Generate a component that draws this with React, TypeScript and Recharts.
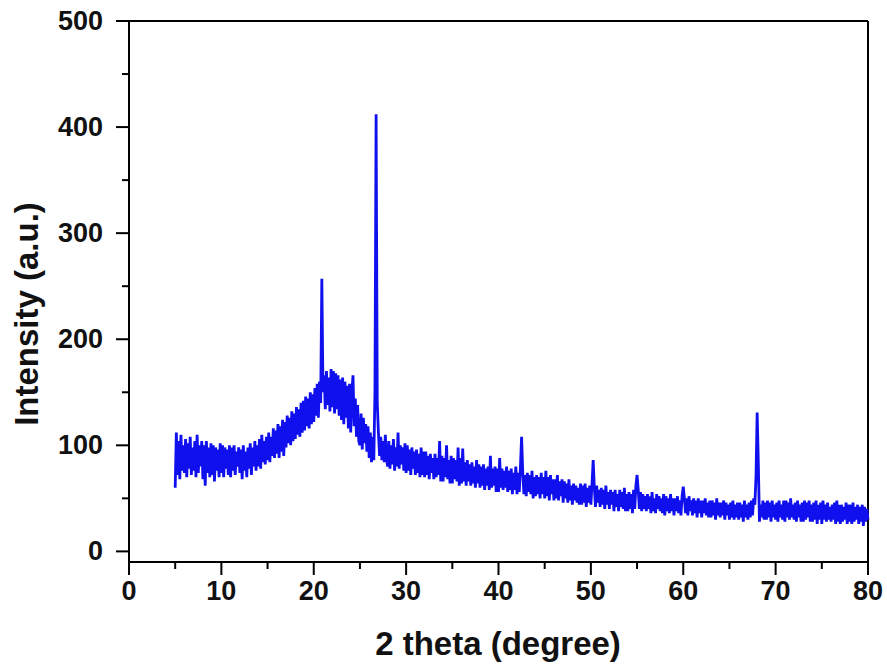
import { LineChart, Line, XAxis, YAxis, ReferenceLine } from 'recharts';

// XRD scan: 2 theta from 5 to 80 deg, read at 0.125 deg steps
const scanStart = 5;
const scanStep = 0.125;

// intensity, eight readings per degree
const intensity = [
  60, 112, 72, 104, 68, 110, 76, 100, // 5
  74, 106, 70, 102, 78, 108, 72, 98, // 6
  76, 104, 70, 110, 74, 100, 80, 104, // 7
  68, 100, 62, 104, 74, 98, 70, 102, // 8
  72, 100, 66, 98, 76, 96, 70, 102, // 9
  74, 100, 70, 98, 78, 96, 72, 100, // 10
  70, 98, 76, 100, 72, 94, 80, 98, // 11
  74, 96, 68, 100, 76, 94, 70, 98, // 12
  78, 102, 72, 98, 80, 104, 76, 100, // 13
  80, 106, 78, 110, 84, 104, 82, 108, // 14
  86, 112, 84, 108, 90, 116, 88, 114, // 15
  92, 120, 88, 118, 94, 124, 90, 122, // 16
  98, 128, 102, 126, 100, 132, 104, 130, // 17
  106, 136, 110, 134, 108, 140, 112, 142, // 18
  114, 146, 118, 144, 116, 150, 120, 148, // 19
  122, 154, 128, 158, 126, 160, 140, 257, // 20
  150, 166, 134, 170, 138, 164, 132, 172, // 21
  136, 170, 130, 168, 134, 166, 128, 162, // 22
  124, 164, 120, 160, 126, 156, 116, 158, // 23
  112, 150, 166, 118, 144, 108, 138, 104, // 24
  100, 130, 96, 126, 102, 120, 94, 118, // 25
  88, 112, 84, 108, 86, 150, 412, 140, // 26
  112, 90, 108, 86, 104, 84, 110, 88, // 27
  80, 104, 78, 100, 82, 106, 76, 98, // 28
  80, 112, 78, 100, 82, 98, 76, 102, // 29
  74, 100, 76, 96, 72, 98, 78, 94, // 30
  72, 96, 74, 92, 70, 98, 72, 94, // 31
  70, 94, 72, 90, 68, 92, 74, 88, // 32
  68, 92, 70, 88, 72, 104, 66, 90, // 33
  66, 88, 70, 100, 68, 86, 64, 90, // 34
  64, 88, 68, 86, 66, 98, 62, 88, // 35
  64, 97, 66, 84, 62, 86, 66, 82, // 36
  62, 84, 64, 80, 60, 86, 64, 82, // 37
  60, 80, 62, 82, 58, 78, 62, 80, // 38
  58, 90, 60, 78, 62, 80, 56, 78, // 39
  56, 88, 60, 78, 58, 76, 60, 80, // 40
  56, 76, 58, 78, 54, 74, 58, 80, // 41
  54, 74, 56, 80, 108, 74, 54, 72, // 42
  52, 74, 56, 72, 54, 76, 50, 70, // 43
  52, 72, 54, 70, 50, 74, 54, 70, // 44
  50, 76, 52, 70, 48, 72, 54, 68, // 45
  48, 68, 50, 72, 48, 66, 52, 68, // 46
  46, 66, 50, 64, 46, 68, 48, 62, // 47
  44, 64, 48, 62, 46, 60, 44, 64, // 48
  44, 62, 46, 64, 42, 60, 46, 62, // 49
  44, 64, 86, 60, 42, 62, 46, 58, // 50
  42, 60, 44, 58, 40, 62, 44, 56, // 51
  40, 58, 44, 56, 38, 58, 42, 54, // 52
  38, 58, 42, 56, 40, 60, 38, 54, // 53
  38, 56, 40, 54, 36, 58, 40, 62, // 54
  72, 58, 40, 56, 38, 54, 40, 52, // 55
  38, 54, 40, 52, 36, 56, 38, 50, // 56
  36, 54, 40, 52, 38, 50, 36, 54, // 57
  34, 52, 38, 50, 36, 54, 38, 50, // 58
  34, 50, 38, 52, 36, 48, 34, 52, // 59
  61, 50, 36, 50, 34, 52, 38, 48, // 60
  34, 50, 36, 48, 32, 50, 36, 48, // 61
  32, 48, 36, 50, 34, 46, 32, 48, // 62
  32, 48, 34, 46, 30, 50, 34, 46, // 63
  32, 46, 34, 48, 30, 46, 34, 44, // 64
  30, 46, 32, 48, 30, 44, 32, 46, // 65
  30, 46, 32, 44, 28, 48, 32, 44, // 66
  30, 46, 32, 48, 34, 50, 44, 70, // 67
  131, 84, 28, 44, 32, 48, 30, 46, // 68
  30, 48, 32, 46, 28, 48, 32, 44, // 69
  30, 46, 28, 48, 32, 44, 30, 48, // 70
  28, 48, 32, 46, 30, 50, 32, 44, // 71
  30, 46, 28, 48, 32, 44, 28, 46, // 72
  28, 48, 30, 46, 32, 48, 28, 44, // 73
  28, 46, 30, 48, 26, 44, 30, 46, // 74
  26, 48, 30, 44, 28, 46, 30, 42, // 75
  28, 44, 30, 46, 26, 48, 28, 44, // 76
  26, 44, 28, 42, 30, 46, 26, 44, // 77
  28, 44, 26, 46, 28, 42, 30, 44, // 78
  26, 42, 28, 44, 24, 42, 28, 40, // 79
  30, // 80
];

const xTicks = [0, 5, 10, 15, 20, 25, 30, 35, 40, 45, 50, 55, 60, 65, 70, 75, 80];
const yTicks = [0, 50, 100, 150, 200, 250, 300, 350, 400, 450, 500];

const data = intensity.map((v, i) => ({ theta: scanStart + i * scanStep, counts: v }));

const font = '"Liberation Sans", Arial, sans-serif';

const XTick = ({ x, y, payload }: any) => {
  const major = payload.value % 10 === 0;
  return (
    <g>
      <line x1={x} x2={x} y1={y} y2={y + (major ? 13 : 7)} stroke="#000" strokeWidth={2} />
      {major && (
        <text x={x} y={y + 38} textAnchor="middle" fontFamily={font} fontWeight="bold" fontSize={27} fill="#111">
          {payload.value}
        </text>
      )}
    </g>
  );
};

const YTick = ({ x, y, payload }: any) => {
  const major = payload.value % 100 === 0;
  return (
    <g>
      <line x1={x} x2={x - (major ? 13 : 7)} y1={y} y2={y} stroke="#000" strokeWidth={2} />
      {major && (
        <text x={x - 26} y={y + 9} textAnchor="end" fontFamily={font} fontWeight="bold" fontSize={27} fill="#111">
          {payload.value}
        </text>
      )}
    </g>
  );
};

export default function App() {
  return (
    <div style={{ position: 'absolute', left: 0, top: 0, background: '#fff' }}>
      <LineChart width={887} height={670} data={data} margin={{ top: 21, right: 19, bottom: 0, left: 0 }}>
        <XAxis
          dataKey="theta"
          type="number"
          domain={[0, 80]}
          ticks={xTicks}
          interval={0}
          height={108}
          tickSize={0}
          tickMargin={0}
          tickLine={false}
          tick={<XTick />}
          axisLine={{ stroke: '#000', strokeWidth: 2 }}
          label={{
            content: () => (
              <text x={498} y={655} textAnchor="middle" fontFamily={font} fontWeight="bold" fontSize={33} fill="#111">
                2 theta (degree)
              </text>
            ),
          }}
        />
        <YAxis
          type="number"
          domain={[-10, 500]}
          ticks={yTicks}
          interval={0}
          width={129}
          allowDataOverflow
          tickSize={0}
          tickMargin={0}
          tickLine={false}
          tick={<YTick />}
          axisLine={{ stroke: '#000', strokeWidth: 2 }}
          label={{
            content: () => (
              <text
                x={38}
                y={314}
                transform="rotate(-90 38 314)"
                textAnchor="middle"
                fontFamily={font}
                fontWeight="bold"
                fontSize={33}
                fill="#111"
              >
                Intensity (a.u.)
              </text>
            ),
          }}
        />
        <ReferenceLine y={500} stroke="#000" strokeWidth={2} />
        <ReferenceLine x={80} stroke="#000" strokeWidth={2} />
        <Line
          type="linear"
          dataKey="counts"
          stroke="#1010ee"
          strokeWidth={2.8}
          dot={false}
          isAnimationActive={false}
        />
      </LineChart>
    </div>
  );
}
